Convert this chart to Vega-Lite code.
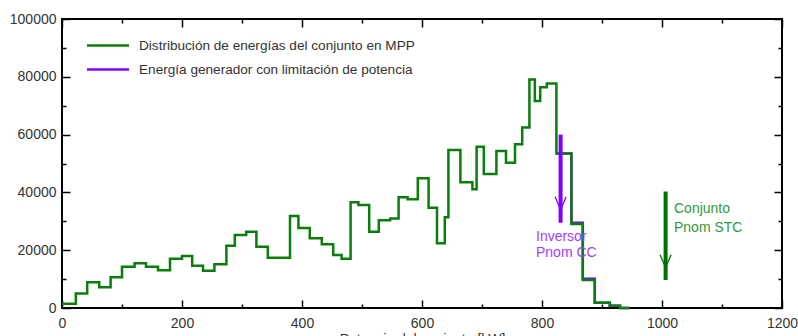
{
  "$schema": "https://vega.github.io/schema/vega-lite/v6.json",
  "width": 720,
  "height": 289,
  "autosize": {"type": "none"},
  "padding": {"left": 62, "top": 19, "right": 16, "bottom": 28},
  "background": "white",
  "config": {
    "view": {"stroke": "#000", "strokeWidth": 2},
    "font": "Liberation Sans",
    "axis": {
      "grid": false,
      "domain": false,
      "labelFont": "Liberation Sans",
      "labelFontSize": 14,
      "labelColor": "#333",
      "tickColor": "#000",
      "tickWidth": 1.5,
      "labelFlush": false,
      "labelOverlap": false,
      "titleFont": "Liberation Sans",
      "titleFontSize": 14,
      "titleFontWeight": "normal",
      "titleColor": "#333"
    }
  },
  "datasets": {
    "curvas": [
      {"p": 824, "e": 53500, "serie": "Energía generador con limitación de potencia"},
      {"p": 849, "e": 29500, "serie": "Energía generador con limitación de potencia"},
      {"p": 868, "e": 10100, "serie": "Energía generador con limitación de potencia"},
      {"p": 888, "e": 1800, "serie": "Energía generador con limitación de potencia"},
      {"p": 913, "e": 800, "serie": "Energía generador con limitación de potencia"},
      {"p": 930, "e": 0, "serie": "Energía generador con limitación de potencia"},
      {"p": 946, "e": 0, "serie": "Energía generador con limitación de potencia"},
      {"p": 0, "e": 1500, "serie": "Distribución de energías del conjunto en MPP"},
      {"p": 23, "e": 5000, "serie": "Distribución de energías del conjunto en MPP"},
      {"p": 42, "e": 8900, "serie": "Distribución de energías del conjunto en MPP"},
      {"p": 62, "e": 7200, "serie": "Distribución de energías del conjunto en MPP"},
      {"p": 81, "e": 10600, "serie": "Distribución de energías del conjunto en MPP"},
      {"p": 100, "e": 14300, "serie": "Distribución de energías del conjunto en MPP"},
      {"p": 121, "e": 15500, "serie": "Distribución de energías del conjunto en MPP"},
      {"p": 140, "e": 14300, "serie": "Distribución de energías del conjunto en MPP"},
      {"p": 160, "e": 13100, "serie": "Distribución de energías del conjunto en MPP"},
      {"p": 180, "e": 17000, "serie": "Distribución de energías del conjunto en MPP"},
      {"p": 200, "e": 18000, "serie": "Distribución de energías del conjunto en MPP"},
      {"p": 217, "e": 14600, "serie": "Distribución de energías del conjunto en MPP"},
      {"p": 235, "e": 12900, "serie": "Distribución de energías del conjunto en MPP"},
      {"p": 254, "e": 15100, "serie": "Distribución de energías del conjunto en MPP"},
      {"p": 274, "e": 21500, "serie": "Distribución de energías del conjunto en MPP"},
      {"p": 288, "e": 25300, "serie": "Distribución de energías del conjunto en MPP"},
      {"p": 307, "e": 26400, "serie": "Distribución de energías del conjunto en MPP"},
      {"p": 324, "e": 21200, "serie": "Distribución de energías del conjunto en MPP"},
      {"p": 343, "e": 17400, "serie": "Distribución de energías del conjunto en MPP"},
      {"p": 380, "e": 31800, "serie": "Distribución de energías del conjunto en MPP"},
      {"p": 394, "e": 27700, "serie": "Distribución de energías del conjunto en MPP"},
      {"p": 413, "e": 24100, "serie": "Distribución de energías del conjunto en MPP"},
      {"p": 433, "e": 22100, "serie": "Distribución de energías del conjunto en MPP"},
      {"p": 452, "e": 18300, "serie": "Distribución de energías del conjunto en MPP"},
      {"p": 466, "e": 17000, "serie": "Distribución de energías del conjunto en MPP"},
      {"p": 481, "e": 36600, "serie": "Distribución de energías del conjunto en MPP"},
      {"p": 494, "e": 35600, "serie": "Distribución de energías del conjunto en MPP"},
      {"p": 512, "e": 26400, "serie": "Distribución de energías del conjunto en MPP"},
      {"p": 528, "e": 30400, "serie": "Distribución de energías del conjunto en MPP"},
      {"p": 547, "e": 31000, "serie": "Distribución de energías del conjunto en MPP"},
      {"p": 561, "e": 38300, "serie": "Distribución de energías del conjunto en MPP"},
      {"p": 576, "e": 37600, "serie": "Distribución de energías del conjunto en MPP"},
      {"p": 593, "e": 44900, "serie": "Distribución de energías del conjunto en MPP"},
      {"p": 611, "e": 34700, "serie": "Distribución de energías del conjunto en MPP"},
      {"p": 625, "e": 22400, "serie": "Distribución de energías del conjunto en MPP"},
      {"p": 638, "e": 31400, "serie": "Distribución de energías del conjunto en MPP"},
      {"p": 644, "e": 54700, "serie": "Distribución de energías del conjunto en MPP"},
      {"p": 664, "e": 43500, "serie": "Distribución de energías del conjunto en MPP"},
      {"p": 684, "e": 41100, "serie": "Distribución de energías del conjunto en MPP"},
      {"p": 691, "e": 55800, "serie": "Distribución de energías del conjunto en MPP"},
      {"p": 703, "e": 46400, "serie": "Distribución de energías del conjunto en MPP"},
      {"p": 724, "e": 54300, "serie": "Distribución de energías del conjunto en MPP"},
      {"p": 740, "e": 50300, "serie": "Distribución de energías del conjunto en MPP"},
      {"p": 755, "e": 56700, "serie": "Distribución de energías del conjunto en MPP"},
      {"p": 767, "e": 62500, "serie": "Distribución de energías del conjunto en MPP"},
      {"p": 779, "e": 79100, "serie": "Distribución de energías del conjunto en MPP"},
      {"p": 788, "e": 71600, "serie": "Distribución de energías del conjunto en MPP"},
      {"p": 797, "e": 76400, "serie": "Distribución de energías del conjunto en MPP"},
      {"p": 808, "e": 77700, "serie": "Distribución de energías del conjunto en MPP"},
      {"p": 824, "e": 53500, "serie": "Distribución de energías del conjunto en MPP"},
      {"p": 849, "e": 29100, "serie": "Distribución de energías del conjunto en MPP"},
      {"p": 868, "e": 9700, "serie": "Distribución de energías del conjunto en MPP"},
      {"p": 888, "e": 1800, "serie": "Distribución de energías del conjunto en MPP"},
      {"p": 913, "e": 800, "serie": "Distribución de energías del conjunto en MPP"},
      {"p": 930, "e": 0, "serie": "Distribución de energías del conjunto en MPP"},
      {"p": 946, "e": 0, "serie": "Distribución de energías del conjunto en MPP"}
    ],
    "flechas": [
      {"nombre": "Inversor", "p": 831, "tope": 60000, "fin": 29500, "punta": 36200},
      {"nombre": "Conjunto", "p": 1006, "tope": 40300, "fin": 9700, "punta": 16200}
    ],
    "textos": [
      {"nombre": "Inversor", "p": 790, "e": 24700, "texto": "Inversor"},
      {"nombre": "Inversor", "p": 790, "e": 18900, "texto": "Pnom CC"},
      {"nombre": "Conjunto", "p": 1020, "e": 34100, "texto": "Conjunto"},
      {"nombre": "Conjunto", "p": 1020, "e": 27600, "texto": "Pnom STC"}
    ]
  },
  "layer": [
    {
      "data": {"name": "curvas"},
      "transform": [{"filter": "datum.serie === 'Energía generador con limitación de potencia'"}],
      "mark": {"type": "line", "interpolate": "step-after", "strokeWidth": 2.5},
      "encoding": {
        "x": {
          "field": "p", "type": "quantitative",
          "scale": {"domain": [0, 1200], "nice": false, "zero": false},
          "axis": {
            "orient": "bottom",
            "values": [0, 100, 200, 300, 400, 500, 600, 700, 800, 900, 1000, 1100, 1200],
            "format": "d",
            "labelExpr": "datum.value % 200 === 0 ? datum.label : ''",
            "tickSize": {"condition": {"test": "datum.value % 200 === 0", "value": -8}, "value": -4},
            "labelPadding": 16,
            "title": "Potencia del conjunto [kW]",
            "titlePadding": -2
          }
        },
        "y": {
          "field": "e", "type": "quantitative",
          "scale": {"domain": [0, 100000], "nice": false},
          "axis": {
            "orient": "left",
            "values": [0, 10000, 20000, 30000, 40000, 50000, 60000, 70000, 80000, 90000, 100000],
            "format": "d",
            "labelExpr": "datum.value % 20000 === 0 ? datum.label : ''",
            "tickSize": {"condition": {"test": "datum.value % 20000 === 0", "value": -8}, "value": -4},
            "labelPadding": 14,
            "title": null
          }
        },
        "color": {
          "field": "serie", "type": "nominal",
          "scale": {
            "domain": ["Distribución de energías del conjunto en MPP", "Energía generador con limitación de potencia"],
            "range": ["#0b7d0b", "#8000ff"]
          },
          "legend": {
            "orient": "none",
            "legendX": 34,
            "legendY": 14.5,
            "title": null,
            "padding": 0,
            "symbolType": "M-2,0L2,0",
            "symbolSize": 441,
            "symbolStrokeWidth": 2.5,
            "labelFontSize": 13.6,
            "labelColor": "#333",
            "labelFont": "Liberation Sans",
            "labelLimit": 0,
            "labelOffset": 19,
            "rowPadding": 5
          }
        }
      }
    },
    {
      "data": {"name": "curvas"},
      "transform": [{"filter": "datum.serie === 'Distribución de energías del conjunto en MPP'"}],
      "mark": {"type": "line", "interpolate": "step-after", "strokeWidth": 2.5},
      "encoding": {
        "x": {
          "field": "p", "type": "quantitative",
          "axis": {
            "orient": "top",
            "values": [0, 100, 200, 300, 400, 500, 600, 700, 800, 900, 1000, 1100, 1200],
            "labels": false,
            "tickSize": {"condition": {"test": "datum.value % 200 === 0", "value": -8}, "value": -4},
            "title": null
          }
        },
        "y": {
          "field": "e", "type": "quantitative",
          "axis": {
            "orient": "right",
            "values": [0, 10000, 20000, 30000, 40000, 50000, 60000, 70000, 80000, 90000, 100000],
            "labels": false,
            "tickSize": {"condition": {"test": "datum.value % 20000 === 0", "value": -8}, "value": -4},
            "title": null
          }
        },
        "color": {"field": "serie", "type": "nominal"}
      }
    },
    {
      "data": {"name": "flechas"},
      "transform": [{"filter": "datum.nombre === 'Inversor'"}],
      "mark": {"type": "rule", "color": "#8000ff", "strokeWidth": 4},
      "encoding": {
        "x": {"field": "p", "type": "quantitative", "axis": null},
        "y": {"field": "tope", "type": "quantitative", "axis": null},
        "y2": {"field": "fin"}
      }
    },
    {
      "data": {"name": "flechas"},
      "transform": [{"filter": "datum.nombre === 'Conjunto'"}],
      "mark": {"type": "rule", "color": "#007000", "strokeWidth": 4},
      "encoding": {
        "x": {"field": "p", "type": "quantitative", "axis": null},
        "y": {"field": "tope", "type": "quantitative", "axis": null},
        "y2": {"field": "fin"}
      }
    },
    {
      "data": {"name": "flechas"},
      "transform": [{"filter": "datum.nombre === 'Inversor'"}],
      "mark": {"type": "point", "shape": "M-0.85,-1L0,1L0.85,-1", "filled": false, "stroke": "#8000ff", "strokeWidth": 1.3, "size": 170, "opacity": 1},
      "encoding": {
        "x": {"field": "p", "type": "quantitative", "axis": null},
        "y": {"field": "punta", "type": "quantitative", "axis": null}
      }
    },
    {
      "data": {"name": "flechas"},
      "transform": [{"filter": "datum.nombre === 'Conjunto'"}],
      "mark": {"type": "point", "shape": "M-0.85,-1L0,1L0.85,-1", "filled": false, "stroke": "#007000", "strokeWidth": 1.3, "size": 170, "opacity": 1},
      "encoding": {
        "x": {"field": "p", "type": "quantitative", "axis": null},
        "y": {"field": "punta", "type": "quantitative", "axis": null}
      }
    },
    {
      "data": {"name": "textos"},
      "transform": [{"filter": "datum.nombre === 'Inversor'"}],
      "mark": {"type": "text", "align": "left", "baseline": "middle", "fontSize": 14, "font": "Liberation Sans", "color": "#a040ff"},
      "encoding": {
        "x": {"field": "p", "type": "quantitative", "axis": null},
        "y": {"field": "e", "type": "quantitative", "axis": null},
        "text": {"field": "texto"}
      }
    },
    {
      "data": {"name": "textos"},
      "transform": [{"filter": "datum.nombre === 'Conjunto'"}],
      "mark": {"type": "text", "align": "left", "baseline": "middle", "fontSize": 14, "font": "Liberation Sans", "color": "#2f9a3a"},
      "encoding": {
        "x": {"field": "p", "type": "quantitative", "axis": null},
        "y": {"field": "e", "type": "quantitative", "axis": null},
        "text": {"field": "texto"}
      }
    }
  ],
  "resolve": {"axis": {"x": "independent", "y": "independent"}}
}
